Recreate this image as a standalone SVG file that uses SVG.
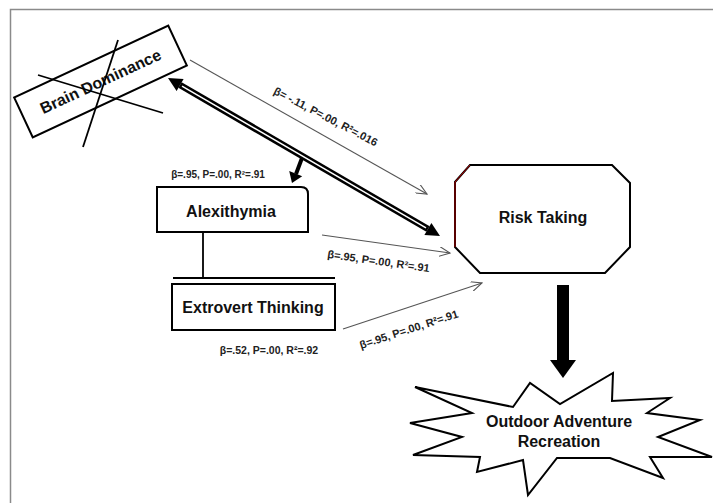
<svg xmlns="http://www.w3.org/2000/svg" width="713" height="503" viewBox="0 0 713 503">
<style>
.node{fill:#fff;stroke:#000;stroke-width:2}
.t{font-family:"Liberation Sans",Arial,sans-serif;font-weight:bold;font-size:16px;fill:#111;text-anchor:middle}
.lbl{font-family:"Liberation Sans",Arial,sans-serif;font-weight:bold;font-size:11px;fill:#222;text-anchor:middle}
.thin{stroke:#555;stroke-width:1.1;fill:none}
</style>
<defs>
<marker id="open" viewBox="0 0 12 10" refX="11" refY="5" markerWidth="12" markerHeight="10" markerUnits="userSpaceOnUse" orient="auto">
<path d="M0,0 L11,5 L0,10" fill="none" stroke="#555" stroke-width="1.1"/>
</marker>
</defs>
<rect width="713" height="503" fill="#fff"/>
<path d="M10.5,503 V9.5 H713" fill="none" stroke="#8a8a8a" stroke-width="1.5"/>

<g id="brain-dominance">
<rect x="15.5" y="59.5" width="170" height="44" transform="rotate(-25 100.5 81.5)" class="node"/>
<text x="100.5" y="87" class="t" transform="rotate(-25 100.5 81.5)">Brain Dominance</text>
<line x1="38" y1="75" x2="163" y2="113" stroke="#000" stroke-width="1.8"/>
<line x1="118" y1="40" x2="83" y2="147" stroke="#000" stroke-width="1.8"/>
</g>

<g id="risk-taking">
<polygon points="470,165 612,165 630,183 630,247 605,273 480,273 455,247 455,182" class="node"/>
<polyline points="455,247 455,182 470,165" fill="none" stroke="#b00000" stroke-width="1"/>
<text x="543" y="223" class="t">Risk Taking</text>
</g>

<g id="alexithymia">
<path d="M157,187 H301 Q308,187 308,194 V232 H157 Z" class="node"/>
<text x="231" y="217" class="t">Alexithymia</text>
</g>

<g id="extrovert-thinking">
<rect x="172" y="284" width="163" height="46" class="node"/>
<text x="253" y="313" class="t">Extrovert Thinking</text>
</g>

<g id="outdoor-adventure-recreation">
<polygon points="415,387 513,407 530,383 560,404 613,373 612,401 670,398 647,413 700,420 658,437 712,457 650,457 663,478 610,458 557,458 528,495 523,460 477,472 480,457 413,455 462,437 410,423 472,413" class="node"/>
<text x="559" y="427" class="t">Outdoor Adventure</text>
<text x="559" y="447" class="t">Recreation</text>
</g>

<g id="connectors">
<line x1="203" y1="233" x2="203" y2="278" stroke="#000" stroke-width="1.8"/>
<line x1="173" y1="278" x2="335" y2="278" stroke="#000" stroke-width="1.8"/>
<line x1="190" y1="60" x2="427" y2="194" class="thin" marker-end="url(#open)"/>
<line x1="322" y1="235" x2="450" y2="253" class="thin" marker-end="url(#open)"/>
<line x1="343" y1="329" x2="482" y2="283" class="thin" marker-end="url(#open)"/>
<line x1="180" y1="85" x2="428" y2="229" stroke="#000" stroke-width="6.5"/>
<line x1="182" y1="86.2" x2="426" y2="227.8" stroke="#fff" stroke-width="1.5"/>
<polygon points="168,78 183.6,78.9 176.6,91.1" fill="#000"/>
<polygon points="440,236 431.4,222.9 424.4,235.1" fill="#000"/>
<line x1="302" y1="158" x2="296" y2="174" stroke="#000" stroke-width="4"/>
<polygon points="292,183 302.2,176.3 289.2,171.1" fill="#000"/>
<rect x="557" y="285" width="12" height="77" fill="#000"/>
<polygon points="550,360 576,360 563,378" fill="#000"/>
</g>

<g id="labels">
<text x="324" y="120" class="lbl" transform="rotate(27.4 324 120)">β= -.11, P=.00, R²=.016</text>
<text x="218" y="178" class="lbl" style="font-size:10px">β=.95, P=.00, R²=.91</text>
<text x="378" y="265" class="lbl" transform="rotate(8 378 265)">β=.95, P=.00, R²=.91</text>
<text x="410" y="333" class="lbl" transform="rotate(-18 410 333)">β=.95, P=.00, R²=.91</text>
<text x="269" y="354" class="lbl" style="font-size:10.5px">β=.52, P=.00, R²=.92</text>
</g>
</svg>
